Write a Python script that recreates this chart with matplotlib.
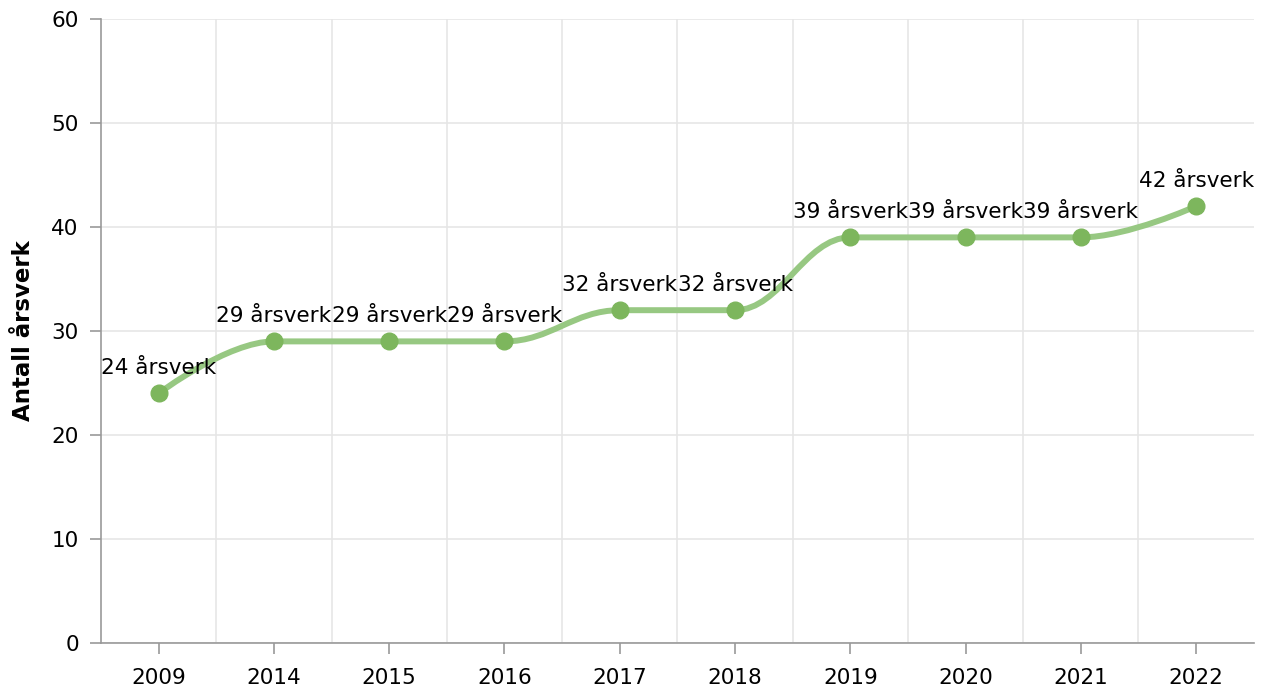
import numpy as np
import matplotlib
matplotlib.use('Agg')
import matplotlib.pyplot as plt
from matplotlib.path import Path
from matplotlib.patches import PathPatch

# Data
years = ['2009', '2014', '2015', '2016', '2017', '2018', '2019', '2020', '2021', '2022']
aarsverk = [24, 29, 29, 29, 32, 32, 39, 39, 39, 42]
labels = [f'{v} årsverk' for v in aarsverk]


def spline_path(xs, ys, smoothing=1.5):
    '''Build a smooth bezier path through the points (spline style)'''
    denom = smoothing + 1
    verts = [(xs[0], ys[0])]
    codes = [Path.MOVETO]
    right_prev = (xs[0], ys[0])
    n = len(xs)
    for i in range(1, n):
        x, y = xs[i], ys[i]
        if i < n - 1:
            lx, ly = xs[i - 1], ys[i - 1]
            nx, ny = xs[i + 1], ys[i + 1]
            lcx = (smoothing * x + lx) / denom
            lcy = (smoothing * y + ly) / denom
            rcx = (smoothing * x + nx) / denom
            rcy = (smoothing * y + ny) / denom
            if rcx != lcx:
                corr = (rcy - lcy) * (rcx - x) / (rcx - lcx) + y - rcy
                lcy += corr
                rcy += corr
            if lcy > ly and lcy > y:
                lcy = max(ly, y)
                rcy = 2 * y - lcy
            elif lcy < ly and lcy < y:
                lcy = min(ly, y)
                rcy = 2 * y - lcy
            if rcy > ny and rcy > y:
                rcy = max(ny, y)
                lcy = 2 * y - rcy
            elif rcy < ny and rcy < y:
                rcy = min(ny, y)
                lcy = 2 * y - rcy
            left_c = (lcx, lcy)
            right_c = (rcx, rcy)
        else:
            left_c = (x, y)
            right_c = (x, y)
        verts += [right_prev, left_c, (x, y)]
        codes += [Path.CURVE4] * 3
        right_prev = right_c
    return Path(verts, codes)


fig = plt.figure(figsize=(12.69, 6.9), dpi=100)
ax = fig.add_axes([0.0796, 0.0681, 0.9084, 0.9044])

x = np.arange(len(years))

# grid
ax.set_xlim(-0.5, len(years) - 0.5)
ax.set_ylim(0, 60)
ax.set_yticks(range(0, 61, 10))
ax.set_xticks(x)
ax.set_xticklabels(years)
ax.set_xticks(np.arange(0.5, len(years) - 0.5, 1), minor=True)
ax.grid(axis='y', which='major', color='#e6e6e6', lw=1.2)
ax.grid(axis='x', which='minor', color='#e6e6e6', lw=1.2)
ax.set_axisbelow(True)

# smooth line and markers
path = spline_path(list(x), aarsverk)
ax.add_patch(PathPatch(path, facecolor='none', edgecolor='#97c882', lw=4.3,
                       capstyle='round', joinstyle='round', zorder=3))
ax.plot(x, aarsverk, 'o', color='#7db65d', markersize=12, zorder=4)

for xi, yi, lab in zip(x, aarsverk, labels):
    ax.annotate(lab, (xi, yi), xytext=(0, 11), textcoords='offset points',
                ha='center', va='bottom', fontsize=15.5, color='black', zorder=5)

for side in ['top', 'right']:
    ax.spines[side].set_visible(False)
for side in ['left', 'bottom']:
    ax.spines[side].set_color('#999999')
    ax.spines[side].set_linewidth(1.2)

ax.tick_params(axis='both', which='major', length=8, color='#999999', width=1.2,
               labelsize=15.5, labelcolor='black')
ax.tick_params(axis='y', which='major', pad=8)
ax.tick_params(axis='x', which='major', pad=10)
ax.tick_params(axis='x', which='minor', length=0)

ax.set_ylabel('Antall årsverk', fontsize=16.5, fontweight='bold', labelpad=12)

fig.savefig('out.png', dpi=100)
